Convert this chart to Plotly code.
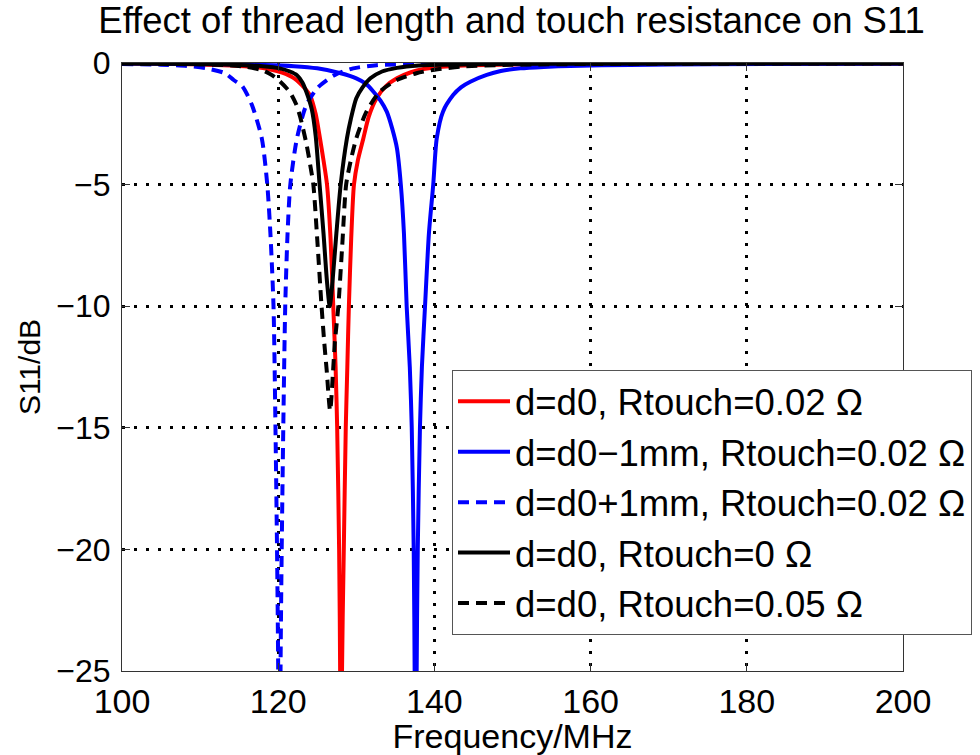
import plotly.graph_objects as go

# ---- data ----
red_f = [100, 105, 110, 114, 117, 119, 120.5, 122, 123, 124.1, 124.8, 125.35, 125.8, 126.25, 126.7, 127.05, 127.35, 127.55, 127.8, 127.93, 128.05,
         128.17, 128.4, 128.65, 128.85, 129.05, 129.35, 129.7, 130.2, 130.9, 131.6, 132.6, 133.8, 135.2, 137, 138.6, 142, 150, 160, 180, 200]
red_db = [-0.02, -0.03, -0.06, -0.1, -0.17, -0.27, -0.4, -0.62, -0.9, -1.35, -2.1, -3.1, -4.0, -5.0, -7.2, -10, -12.5, -15, -20, -25, -40,
          -25, -20, -15, -12.5, -10, -7.2, -5.0, -4.0, -3.1, -2.2, -1.45, -0.95, -0.63, -0.38, -0.25, -0.13, -0.06, -0.04, -0.03, -0.02]

blue_f = [100, 110, 118, 122, 125, 128, 130, 131.2, 132.2, 133.1, 133.9, 134.6, 135.2, 135.7, 136.1, 136.45, 136.85, 137.1, 137.35, 137.47, 137.6,
          137.73, 137.87, 138.15, 138.4, 138.8, 139.3, 139.85, 140.3, 141.1, 142.4, 143.4, 144.6, 146.7, 148.5, 151, 154, 157.4, 165, 175, 190, 200]
blue_db = [-0.02, -0.04, -0.08, -0.13, -0.22, -0.42, -0.63, -0.85, -1.18, -1.55, -2.0, -2.7, -3.5, -5.0, -7.0, -10, -12.5, -15, -20, -25, -40,
           -25, -20, -15, -12.5, -10, -7.0, -5.0, -3.1, -2.0, -1.32, -1.0, -0.77, -0.49, -0.33, -0.22, -0.16, -0.12, -0.08, -0.05, -0.03, -0.02]

bluedash_f = [100, 105, 108.3, 110.8, 113.2, 114.3, 115.4, 116.6, 117.9, 118.6, 119.0, 119.4, 119.65, 119.85, 120.0, 120.15,
              120.3, 120.45, 120.65, 120.9, 121.2, 121.55, 122.4, 123.6, 125.1, 127.2, 129.6, 132.6, 138, 150, 200]
bluedash_db = [-0.04, -0.07, -0.12, -0.22, -0.42, -0.7, -0.95, -1.7, -3.1, -5.0, -7.0, -10, -15, -20, -25, -40,
               -25, -20, -15, -10, -7.0, -5.0, -3.1, -1.73, -1.0, -0.5, -0.22, -0.09, -0.04, -0.03, -0.02]

black_f = [100, 110, 115, 118, 120.2, 121.5, 122.4, 123.1, 123.6, 124.3, 124.8, 125.3, 125.8, 126.25, 126.6,
           126.95, 127.45, 128.0, 128.8, 129.3, 130.0, 130.8, 131.8, 133.3, 135.2, 138, 145, 160, 200]
black_db = [-0.02, -0.04, -0.08, -0.13, -0.22, -0.35, -0.5, -0.8, -1.18, -1.9, -3.0, -5.0, -7.0, -9.0, -10.0,
            -9.0, -7.0, -5.0, -3.1, -2.3, -1.45, -1.0, -0.63, -0.35, -0.2, -0.1, -0.05, -0.03, -0.02]

blackdash_f = [100, 110, 114, 116, 118, 119.2, 120.2, 121.5, 122.3, 122.8, 123.6, 124.1, 124.5, 125.05, 125.55, 125.9, 126.2, 126.65,
               127.0, 127.25, 127.7, 128.2, 128.7, 129.3, 130.0, 131.3, 133.0, 135.2, 137.7, 140, 143.3, 148.8, 160, 200]
blackdash_db = [-0.02, -0.06, -0.1, -0.16, -0.3, -0.5, -0.75, -1.2, -1.7, -2.2, -3.3, -4.2, -5.0, -7.5, -10, -11.5, -12.6, -14.3,
                -12.8, -11.5, -10, -7.5, -5.0, -4.0, -3.1, -2.0, -1.18, -0.7, -0.42, -0.28, -0.15, -0.08, -0.04, -0.02]

names = ["d=d0, Rtouch=0.02 Ω", "d=d0−1mm, Rtouch=0.02 Ω", "d=d0+1mm, Rtouch=0.02 Ω",
         "d=d0, Rtouch=0 Ω", "d=d0, Rtouch=0.05 Ω"]
x_ticks = [100, 120, 140, 160, 180, 200]
y_ticks = [0, -5, -10, -15, -20, -25]

series = [
    (red_f, red_db, "#ff0000", "solid"),
    (blue_f, blue_db, "#0000ff", "solid"),
    (bluedash_f, bluedash_db, "#0000ff", "11px,7px"),
    (black_f, black_db, "#000000", "solid"),
    (blackdash_f, blackdash_db, "#000000", "11px,7px"),
]

FONT = "Liberation Sans, Arial, Helvetica, sans-serif"

fig = go.Figure()
for i, ((fx, fy, col, dash), nm) in enumerate(zip(series, names)):
    fig.add_trace(go.Scatter(
        x=fx, y=fy, mode="lines", name=nm, legendgroup=f"g{i}",
        line=dict(color=col, width=4, dash=dash, shape="spline", smoothing=0.7),
    ))

axis_common = dict(
    showline=True, linecolor="#333333", linewidth=1.2, mirror="ticks",
    ticks="inside", ticklen=8, tickcolor="#333333", tickwidth=1,
    showgrid=True, gridcolor="#000000", gridwidth=2.5, griddash="3px,9px",
    zeroline=False, automargin=False,
)

fig.update_layout(
    width=980, height=755,
    margin=dict(l=122, r=77, t=63, b=84, autoexpand=False),
    paper_bgcolor="white", plot_bgcolor="white",
    title=dict(text="Effect of thread length and touch resistance on S11",
               font=dict(family=FONT, size=36.5, color="#000000"),
               x=0.522, xanchor="center", y=0.973, yanchor="middle", yref="container"),
    xaxis=dict(range=[100, 200], tickvals=x_ticks, ticklabelstandoff=0,
               tickfont=dict(family=FONT, size=34, color="#000000"),
               title=dict(text="Frequency/MHz", font=dict(family=FONT, size=34, color="#000000"), standoff=2),
               **axis_common),
    yaxis=dict(range=[-25, 0], tickvals=y_ticks, ticklabelstandoff=4,
               tickfont=dict(family=FONT, size=32, color="#000000"),
               title=dict(text="S11/dB", font=dict(family=FONT, size=30, color="#000000"), standoff=6),
               **axis_common),
    legend=dict(x=(452 - 122) / 781, y=(671 - 370) / 608, xanchor="left", yanchor="top",
                bgcolor="white", bordercolor="#555555", borderwidth=1,
                font=dict(family=FONT, size=36.5, color="#000000"),
                tracegroupgap=0, itemwidth=52),
    showlegend=True,
)

fig.write_html("out.html")
